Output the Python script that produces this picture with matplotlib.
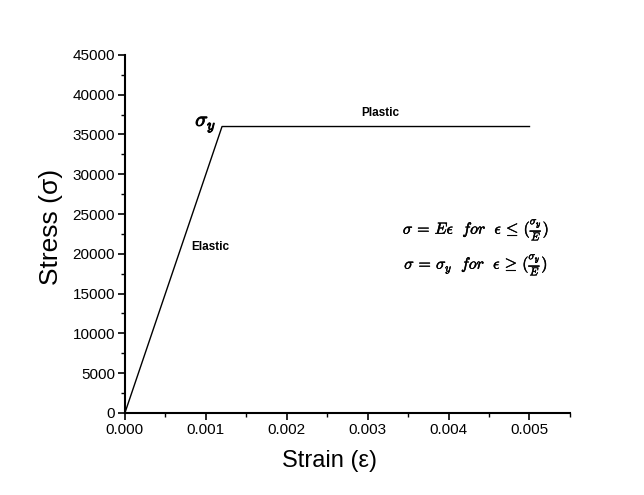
import matplotlib
matplotlib.use("Agg")
import matplotlib.pyplot as plt
import matplotlib.patheffects as pe
from matplotlib.ticker import MultipleLocator

plt.rcParams['font.family'] = ['Liberation Sans', 'DejaVu Sans']
plt.rcParams['mathtext.fontset'] = 'cm'

# stress-strain curve (elastic-perfectly plastic)
strain = [0.0, 0.0012, 0.005]
stress = [0.0, 36000, 36000]

fig = plt.figure(figsize=(6.44, 4.95), dpi=100)
ax = fig.add_axes([0.194, 0.166, 0.691, 0.723])

ax.plot(strain, stress, color='black', linewidth=1.0)

ax.set_xlim(0, 0.0055)
ax.set_ylim(0, 45000)
ax.xaxis.set_major_locator(MultipleLocator(0.001))
ax.xaxis.set_minor_locator(MultipleLocator(0.0005))
ax.yaxis.set_major_locator(MultipleLocator(5000))
ax.yaxis.set_minor_locator(MultipleLocator(2500))
ax.xaxis.set_major_formatter(plt.FormatStrFormatter('%.3f'))

for side in ['top', 'right']:
    ax.spines[side].set_visible(False)
for side in ['left', 'bottom']:
    ax.spines[side].set_linewidth(1.5)

ax.tick_params(which='major', direction='out', length=5, width=1.2, labelsize=11, pad=2)
ax.tick_params(which='minor', direction='out', length=3, width=1.0)

ax.set_xlabel('Strain (ε)', fontsize=17, labelpad=10)
ax.xaxis.label.set_x(0.46)
ax.set_ylabel('Stress (σ)', fontsize=19, labelpad=7)
ax.yaxis.label.set_y(0.52)

thick = [pe.withStroke(linewidth=0.7, foreground='black')]
light = [pe.withStroke(linewidth=0.35, foreground='black')]

ax.text(0.00316, 37700, 'Plastic', fontsize=8.5, fontweight='bold', ha='center', va='center')
ax.text(0.00105, 20800, 'Elastic', fontsize=8.5, fontweight='bold', ha='center', va='center')
ax.text(0.00113, 36300, r'$\sigma_y$', fontsize=15, ha='right', va='center',
        path_effects=thick)

ax.text(0.00434, 23000, r'$\sigma\, =\, E\epsilon\ \ for\ \ \epsilon\, \leq\, (\frac{\sigma_y}{E})$',
        fontsize=11.5, ha='center', va='center', path_effects=light)
ax.text(0.00434, 18600, r'$\sigma\, =\, \sigma_y\ \ for\ \ \epsilon\, \geq\, (\frac{\sigma_y}{E})$',
        fontsize=11.5, ha='center', va='center', path_effects=light)

fig.savefig('out.png', dpi=100)
